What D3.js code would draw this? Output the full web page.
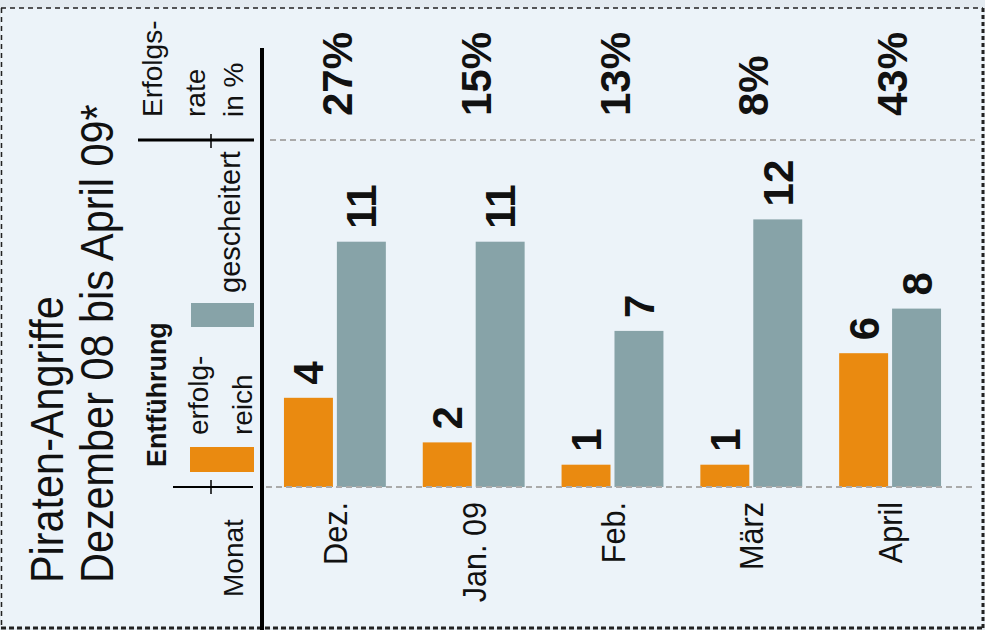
<!DOCTYPE html>
<html>
<head>
<meta charset="utf-8">
<script src="https://cdn.jsdelivr.net/npm/d3@7"></script>
<style>
  body { margin: 0; background: #e4ebf1; }
  svg { display: block; font-family: "Liberation Sans", Arial, sans-serif; }
</style>
</head>
<body>
<div id="chart"></div>
<script>
// data
const months = ["Dez.", "Jan. 09", "Feb.", "März", "April"];
const erfolgreich = [4, 2, 1, 1, 6];
const gescheitert = [11, 11, 7, 12, 8];
const erfolgsrate = [27, 15, 13, 8, 43];
const series = ["erfolgreich", "gescheitert"];

const W = 985, H = 630;
const colors = { erfolgreich: "#ea8a10", gescheitert: "#87a3a8" };

const svg = d3.select("#chart").append("svg")
    .attr("width", W)
    .attr("height", H);

// background + dashed frame
svg.append("rect").attr("width", W).attr("height", H).attr("fill", "#e4ebf1");
svg.append("rect").attr("x", 1).attr("y", 8).attr("width", 982).attr("height", 620).attr("fill", "#ecf3f9");

const frame = svg.append("g").attr("fill", "none").attr("stroke", "#222");
frame.append("line").attr("x1", 1).attr("x2", 983).attr("y1", 8).attr("y2", 8)
    .attr("stroke-width", 1.5).attr("stroke-dasharray", "5,4");
frame.append("line").attr("x1", 1.5).attr("x2", 1.5).attr("y1", 8).attr("y2", 628)
    .attr("stroke-width", 1.5).attr("stroke-dasharray", "5,4");
frame.append("line").attr("x1", 983).attr("x2", 983).attr("y1", 8).attr("y2", 629)
    .attr("stroke-width", 3).attr("stroke-dasharray", "4,3");
frame.append("line").attr("x1", 1).attr("x2", 983).attr("y1", 628).attr("y2", 628)
    .attr("stroke-width", 3).attr("stroke-dasharray", "5,3");

// scales
const x0 = d3.scaleBand().domain(months).range([268, 957]).paddingInner(0.266).paddingOuter(0.115);
const x1 = d3.scaleBand().domain(series).range([0, x0.bandwidth()]).paddingInner(0.075);
const y = d3.scaleLinear().domain([0, 12]).range([487, 219.4]);

// rotated text helper: x = baseline position, y = anchor along the vertical
function vtext(parent, x, yPos, str, opt) {
    opt = opt || {};
    const g = parent.append("g").attr("transform", `translate(${x},${yPos}) rotate(-90)`);
    const t = g.append("text")
        .attr("text-anchor", opt.anchor || "start")
        .attr("font-size", opt.size || 28)
        .attr("font-weight", opt.weight || "normal")
        .attr("fill", "#111")
        .text(str);
    if (opt.sx) t.attr("transform", `scale(${opt.sx},1)`);
    return t;
}

// dashed guide lines
svg.append("line").attr("x1", 270).attr("x2", 975).attr("y1", 140).attr("y2", 140)
    .attr("stroke", "#aaa").attr("stroke-width", 2).attr("stroke-dasharray", "6,4");

// bars
const rows = months.map((m, i) => ({ month: m, erfolgreich: erfolgreich[i], gescheitert: gescheitert[i], rate: erfolgsrate[i] }));

const groups = svg.selectAll(".grp")
    .data(rows)
    .enter().append("g")
    .attr("class", "grp")
    .attr("transform", d => `translate(${x0(d.month)},0)`);

groups.selectAll("rect")
    .data(d => series.map(k => ({ key: k, value: d[k] })))
    .enter().append("rect")
    .attr("x", d => x1(d.key))
    .attr("width", x1.bandwidth())
    .attr("y", d => y(d.value))
    .attr("height", d => y(0) - y(d.value))
    .attr("fill", d => colors[d.key]);

// value labels above bars
groups.each(function(d) {
    const g = d3.select(this);
    series.forEach(k => {
        vtext(g, x1(k) + x1.bandwidth() / 2 + 15, y(d[k]) - 13, String(d[k]), { size: 42, weight: "bold" });
    });
    const cx = x0.bandwidth() / 2;
    vtext(g, cx + 17, 116, d.rate + "%", { size: 42, weight: "bold" });
    vtext(g, cx + 12, 502, d.month, { size: 34, anchor: "end", sx: 0.9 });
});

// baseline
svg.append("line").attr("x1", 266).attr("x2", 975).attr("y1", 487).attr("y2", 487)
    .attr("stroke", "#aaa").attr("stroke-width", 2).attr("stroke-dasharray", "6,4");

// vertical axis line
svg.append("line").attr("x1", 262).attr("x2", 262).attr("y1", 48).attr("y2", H)
    .attr("stroke", "#000").attr("stroke-width", 4);

// title
vtext(svg, 63, 583, "Piraten-Angriffe", { size: 46, sx: 0.9 });
vtext(svg, 113, 583, "Dezember 08 bis April 09*", { size: 46, sx: 0.9 });

// legend column
vtext(svg, 162, 117, "Erfolgs-", { size: 28 });
vtext(svg, 205, 117, "rate", { size: 28 });
vtext(svg, 243, 117, "in %", { size: 28 });

svg.append("line").attr("x1", 138).attr("x2", 254).attr("y1", 140).attr("y2", 140)
    .attr("stroke", "#000").attr("stroke-width", 3);
svg.append("line").attr("x1", 211).attr("x2", 211).attr("y1", 134).attr("y2", 148)
    .attr("stroke", "#000").attr("stroke-width", 1.5);

vtext(svg, 240, 293, "gescheitert", { size: 29 });
svg.append("rect").attr("x", 191).attr("y", 303).attr("width", 63).attr("height", 24)
    .attr("fill", colors.gescheitert);

vtext(svg, 166, 467, "Entführung", { size: 28, weight: "bold", sx: 0.96 });
vtext(svg, 208, 435, "erfolg-", { size: 28 });
vtext(svg, 252, 435, "reich", { size: 28 });
svg.append("rect").attr("x", 190).attr("y", 447).attr("width", 64).attr("height", 25)
    .attr("fill", colors.erfolgreich);

svg.append("line").attr("x1", 173).attr("x2", 253).attr("y1", 487).attr("y2", 487)
    .attr("stroke", "#000").attr("stroke-width", 2);
svg.append("line").attr("x1", 211).attr("x2", 211).attr("y1", 480).attr("y2", 494)
    .attr("stroke", "#000").attr("stroke-width", 1.5);

vtext(svg, 243, 597, "Monat", { size: 28 });
</script>
</body>
</html>
